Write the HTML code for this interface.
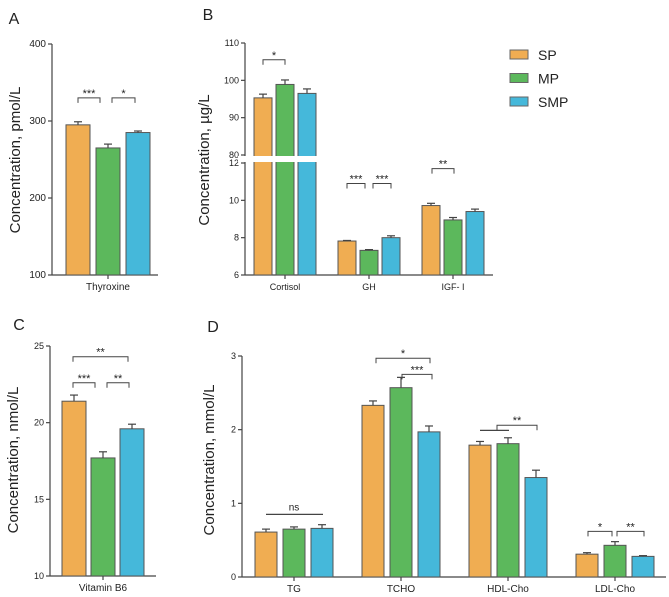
<!DOCTYPE html>
<html><head><meta charset="utf-8"><style>
body{margin:0;background:#fff;}
svg{display:block;font-family:"Liberation Sans",Arial,sans-serif;}
</style></head><body>
<svg id="c" width="669" height="597" viewBox="0 0 669 597"></svg>
<script>
const seriesNames=["SP","MP","SMP"];
const colors=["#F0AD52","#5CB85C","#45B8DA"];
// Panel A
const aCats=["Thyroxine"];
const aVals=[[295],[265],[285]];
const aErr=[[4],[5],[2]];
const aTicks=[100,200,300,400];
// Panel B
const bCats=["Cortisol","GH","IGF- I"];
const bVals=[[95.3,7.82,9.72],[98.9,7.32,8.95],[96.5,8.0,9.4]];
const bErr=[[1.0,0.03,0.12],[1.2,0.04,0.13],[1.2,0.1,0.13]];
const bTicksHigh=[80,90,100,110];
const bTicksLow=[6,8,10,12];
// Panel C
const cCats=["Vitamin B6"];
const cVals=[[21.4],[17.7],[19.6]];
const cErr=[[0.4],[0.4],[0.3]];
const cTicks=[10,15,20,25];
// Panel D
const dCats=["TG","TCHO","HDL-Cho","LDL-Cho"];
const dVals=[[0.61,2.33,1.79,0.31],[0.65,2.57,1.81,0.43],[0.66,1.97,1.35,0.28]];
const dErr=[[0.04,0.06,0.05,0.02],[0.03,0.14,0.08,0.05],[0.05,0.08,0.1,0.01]];
const dTicks=[0,1,2,3];

const svg=document.getElementById('c');
const NS="http://www.w3.org/2000/svg";
function mk(tag,at,parent){const e=document.createElementNS(NS,tag);for(const k in at)e.setAttribute(k,at[k]);(parent||svg).appendChild(e);return e;}
function txt(s,x,y,size,anchor,name,extra){const t=mk('text',Object.assign({x:x,y:y,'font-size':size,'text-anchor':anchor||'middle',fill:'#222'},extra||{}));t.textContent=s;


return t;}
function line(x1,y1,x2,y2,name,w){const l=mk('line',{x1:x1,y1:y1,x2:x2,y2:y2,stroke:'#444','stroke-width':w||1.2});


return l;}

function panel(o){
  // o: axisX, axisEnd, bottom, y(fn), ticks, tickY(fn), cats, vals, err, groupX0, groupStep, barW, barGap, tickSize
  line(o.axisX,o.top,o.axisX,o.bottom,o.id+'-y-axis');
  line(o.axisX,o.bottom,o.axisEnd,o.bottom,o.id+'-x-axis');
  o.ticks.forEach(t=>{const yy=o.y(t);line(o.axisX-4,yy,o.axisX,yy,o.id+'-y-tick');
    txt(String(t),o.axisX-6,yy+3,o.tickSize,'end',o.id+'-y-tick-label');});
  o.cats.forEach((c,i)=>{
    const gx=o.groupX0+i*o.groupStep;
    for(let s=0;s<3;s++){
      const x=gx+s*(o.barW+o.barGap);const v=o.vals[s][i];const yv=o.y(v);
      const r=mk('rect',{x:x,y:yv,width:o.barW,height:o.bottom-yv,fill:colors[s],stroke:'#555','stroke-width':1});
      
      
      const ye=o.y(v+o.err[s][i]);const cx=x+o.barW/2;
      line(cx,yv,cx,ye,o.id+'-error-bar');line(cx-4,ye,cx+4,ye,o.id+'-error-cap');
    }
    const cx=gx+(3*o.barW+2*o.barGap)/2;
    line(cx,o.bottom,cx,o.bottom+4,o.id+'-x-tick');
    txt(c,cx,o.bottom+15,o.catSize,'middle',o.id+'-x-label');
  });
}
function bracket(x1,x2,y,label,name){
  const p=mk('path',{d:`M${x1} ${y+5}V${y}H${x2}V${y+5}`,fill:'none',stroke:'#444','stroke-width':1});
  
  
  txt(label,(x1+x2)/2,y-1,label==='ns'?10:11,'middle',name+'-label');
}
function ytitle(s,x,y,size,name){txt(s,x,y,size,'middle',name,{transform:`rotate(-90 ${x} ${y})`});}

// Panel A
const yA=v=>275-(v-100)/300*231;
panel({id:'a',axisX:52,axisEnd:158,top:44,bottom:275,y:yA,ticks:aTicks,cats:aCats,vals:aVals,err:aErr,groupX0:66,groupStep:0,barW:24,barGap:6,tickSize:10,catSize:10});
txt('A',14,24,16,'middle','panel-a-label');
ytitle('Concentration, pmol/L',20,160,15,'a-y-axis-title');
bracket(78,100,yA(330),'***','a-sig-sp-mp');
bracket(112,135,yA(330),'*','a-sig-mp-smp');

// Panel B (broken axis)
const yB=v=> v>=50 ? 155-(v-80)/30*112 : 275-(v-6)/6*112;
panel({id:'b',axisX:245,axisEnd:493,top:43,bottom:275,y:yB,ticks:bTicksHigh.concat(bTicksLow),cats:bCats,vals:bVals,err:bErr,groupX0:254,groupStep:84,barW:18,barGap:4,tickSize:9,catSize:9});
const brk=mk('rect',{x:238,y:156,width:82,height:6,fill:'#fff'});


txt('B',208,20,16,'middle','panel-b-label');
ytitle('Concentration, µg/L',209,160,15,'b-y-axis-title');
bracket(263,285,yB(105.5),'*','b-sig-cortisol');
bracket(347,365,yB(10.9),'***','b-sig-gh-1');
bracket(373,391,yB(10.9),'***','b-sig-gh-2');
bracket(432,454,yB(11.7),'**','b-sig-igf');

// Legend
seriesNames.forEach((n,i)=>{
  const r=mk('rect',{x:510,y:50+i*23.5,width:18,height:9,fill:colors[i],stroke:'#666','stroke-width':1});
  
  
  txt(n,538,60+i*23.5,14,'start','legend-entry-'+n.toLowerCase());
});

// Panel C
const yC=v=>576-(v-10)/15*230;
panel({id:'c',axisX:50,axisEnd:156,top:346,bottom:576,y:yC,ticks:cTicks,cats:cCats,vals:cVals,err:cErr,groupX0:62,groupStep:0,barW:24,barGap:5,tickSize:9,catSize:10});
txt('C',19,330,16,'middle','panel-c-label');
ytitle('Concentration, nmol/L',18,460,15,'c-y-axis-title');
bracket(73,95,yC(22.6),'***','c-sig-sp-mp');
bracket(107,129,yC(22.6),'**','c-sig-mp-smp');
bracket(73,128,yC(24.3),'**','c-sig-sp-smp');

// Panel D
const yD=v=>577-v/3*221;
panel({id:'d',axisX:242,axisEnd:666,top:356,bottom:577,y:yD,ticks:dTicks,cats:dCats,vals:dVals,err:dErr,groupX0:255,groupStep:107,barW:22,barGap:6,tickSize:9,catSize:10});
txt('D',213,332,16,'middle','panel-d-label');
ytitle('Concentration, mmol/L',214,460,15,'d-y-axis-title');
line(266,yD(0.85),323,yD(0.85),'d-sig-tg');
txt('ns',294,yD(0.85)-4,10,'middle','d-sig-tg-label');
bracket(376,430,yD(2.97),'*','d-sig-tcho-sp-smp');
bracket(402,432,yD(2.75),'***','d-sig-tcho-mp-smp');
line(480,yD(1.99),509,yD(1.99),'d-sig-hdl-group');
bracket(497,537,yD(2.06),'**','d-sig-hdl');
bracket(588,612,yD(0.62),'*','d-sig-ldl-1');
bracket(617,644,yD(0.62),'**','d-sig-ldl-2');
</script>
</body></html>
